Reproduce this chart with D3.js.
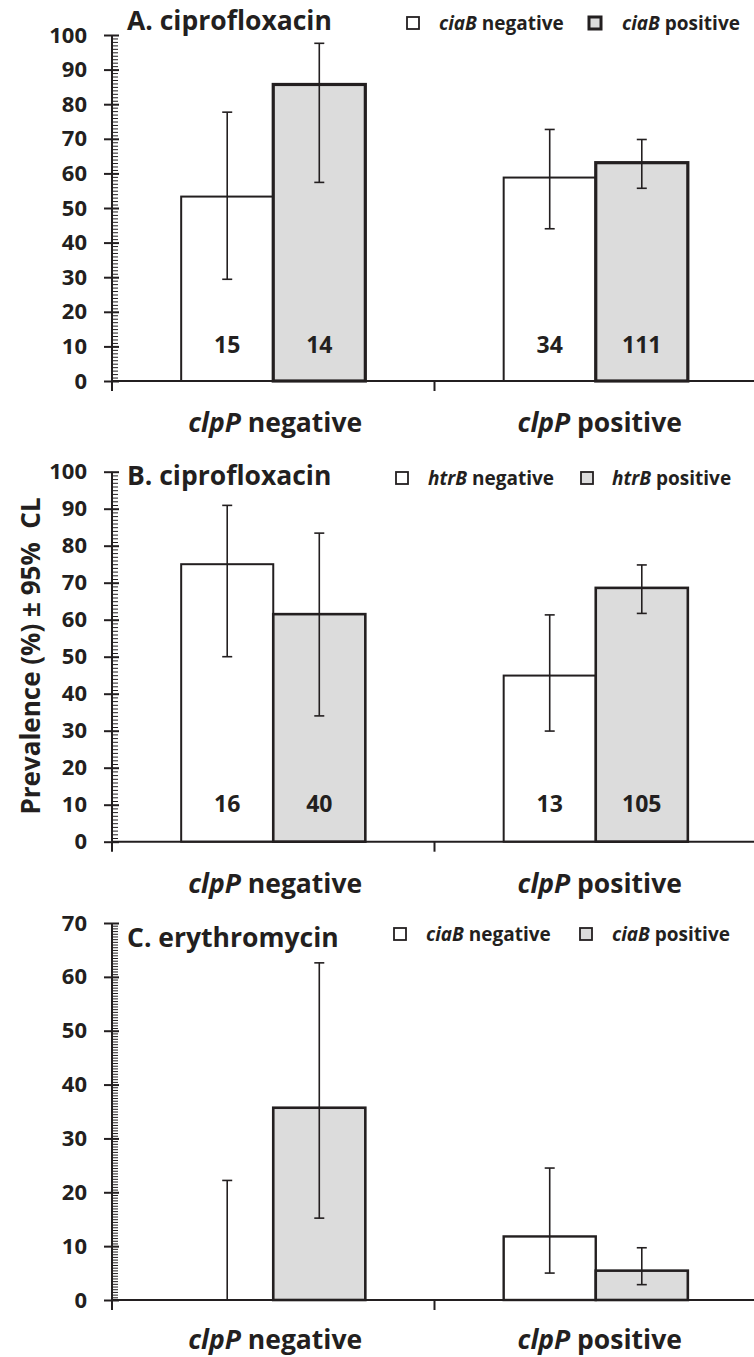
<!DOCTYPE html>
<html>
<head>
<meta charset="utf-8">
<script src="https://cdn.jsdelivr.net/npm/d3@7"></script>
<style>
  html, body { margin: 0; padding: 0; background: #fff; }
  svg { display: block; }
  text { font-family: "Open Sans", "Noto Sans", sans-serif; font-weight: bold; fill: #231f20; }
</style>
</head>
<body>
<svg id="chart" width="754" height="1357"></svg>
<script>
// ---------- data ----------
const categories = ["clpP negative", "clpP positive"];
const categoryGene = ["clpP", "clpP"];
const categoryState = ["negative", "positive"];
const seriesKeys = ["negative", "positive"];
const panelTitles = ["A. ciprofloxacin", "B. ciprofloxacin", "C. erythromycin"];
const legendGenes = ["ciaB", "htrB", "ciaB"];
const yMaxes = [100, 100, 70];
const majorTickStep = [10, 10, 10];
const minorTickStep = [1, 1, 0.5];

// values per category: [negative series, positive series]
const valuesA = [[53.3, 85.7], [58.8, 63.1]];
const lowerA  = [[29.4, 57.4], [44.0, 55.7]];
const upperA  = [[77.7, 97.6], [72.7, 69.8]];
const countsA = [[15, 14], [34, 111]];

const valuesB = [[75.0, 61.5], [44.9, 68.6]];
const lowerB  = [[50.0, 34.0], [29.9, 61.7]];
const upperB  = [[90.9, 83.4], [61.3, 74.8]];
const countsB = [[16, 40], [13, 105]];

const valuesC = [[0, 35.7], [11.8, 5.45]];
const lowerC  = [[0, 15.2], [5.0, 2.85]];
const upperC  = [[22.2, 62.6], [24.5, 9.7]];
const countsC = null;

const yAxisTitle = "Prevalence (%) ± 95%  CL";

// ---------- layout ----------
const ink = "#231f20";
const grayFill = "#dcdcdc";
const layouts = [
  { top: 35,    bottom: 381,   titleY: 30,    legY: 17,    legX: [407, 589], txtX: [439, 622], catY: 432,  grayStroke: 3.2, whiteStroke: 2 },
  { top: 471.7, bottom: 841.7, titleY: 485,   legY: 472,   legX: [396, 581], txtX: [428, 612], catY: 893,  grayStroke: 2.6, whiteStroke: 2 },
  { top: 923,   bottom: 1300,  titleY: 946.5, legY: 928,   legX: [394, 580], txtX: [426, 612], catY: 1349, grayStroke: 2.6, whiteStroke: 2.4 }
];
const panelData = [
  { v: valuesA, lo: lowerA, hi: upperA, n: countsA },
  { v: valuesB, lo: lowerB, hi: upperB, n: countsB },
  { v: valuesC, lo: lowerC, hi: upperC, n: countsC }
];

const svg = d3.select("#chart");
const xLeft = 112, xRight = 757;

const x0 = d3.scaleBand().domain(categories).range([xLeft, xRight]).padding(0);
const bw = x0.bandwidth();
const groupW = bw * 0.571;
const x1 = d3.scaleBand().domain(seriesKeys).range([(bw - groupW) / 2, (bw + groupW) / 2]).padding(0);

panelData.forEach((pd, pi) => {
  const L = layouts[pi];
  const g = svg.append("g");
  const y = d3.scaleLinear().domain([0, yMaxes[pi]]).range([L.bottom, L.top]);

  // bars
  categories.forEach((cat, ci) => {
    seriesKeys.forEach((s, si) => {
      const val = pd.v[ci][si];
      const isPos = si === 1;
      const sw = isPos ? L.grayStroke : L.whiteStroke;
      g.append("rect")
        .attr("x", x0(cat) + x1(s))
        .attr("y", y(val))
        .attr("width", x1.bandwidth())
        .attr("height", y(0) - y(val))
        .attr("fill", isPos ? grayFill : "#fff")
        .attr("stroke", ink)
        .attr("stroke-width", sw);
    });
  });

  // error bars
  categories.forEach((cat, ci) => {
    seriesKeys.forEach((s, si) => {
      const cx = x0(cat) + x1(s) + x1.bandwidth() / 2;
      const lo = pd.lo[ci][si], hi = pd.hi[ci][si];
      g.append("line").attr("x1", cx).attr("x2", cx).attr("y1", y(lo)).attr("y2", y(hi))
        .attr("stroke", ink).attr("stroke-width", 1.6);
      g.append("line").attr("x1", cx - 5).attr("x2", cx + 5).attr("y1", y(hi)).attr("y2", y(hi))
        .attr("stroke", ink).attr("stroke-width", 1.6);
      if (lo > 0) {
        g.append("line").attr("x1", cx - 5).attr("x2", cx + 5).attr("y1", y(lo)).attr("y2", y(lo))
          .attr("stroke", ink).attr("stroke-width", 1.6);
      }
    });
  });

  // counts
  if (pd.n) {
    categories.forEach((cat, ci) => {
      seriesKeys.forEach((s, si) => {
        const cx = x0(cat) + x1(s) + x1.bandwidth() / 2;
        g.append("text").attr("x", cx).attr("y", y(10)).attr("dy", "0.3em")
          .attr("text-anchor", "middle").style("font-size", "23px")
          .text(pd.n[ci][si]);
      });
    });
  }

  // y axis ticks
  const majors = d3.range(0, yMaxes[pi] + 0.001, majorTickStep[pi]);
  const minors = d3.range(0, yMaxes[pi] + 0.001, minorTickStep[pi]).filter(v => Math.abs(v / majorTickStep[pi] - Math.round(v / majorTickStep[pi])) > 1e-6);

  const yAxisMinor = d3.axisRight(y).tickValues(minors).tickSize(6).tickFormat("");
  const gMinor = g.append("g").attr("transform", `translate(${xLeft},0)`).call(yAxisMinor);
  gMinor.select(".domain").remove();
  gMinor.selectAll("line").attr("stroke", ink).attr("stroke-width", 1);

  const yAxisMajor = d3.axisLeft(y).tickValues(majors).tickSize(8).tickPadding(17).tickFormat(d3.format("d"));
  const gMajor = g.append("g").attr("transform", `translate(${xLeft},0)`).call(yAxisMajor);
  gMajor.select(".domain").attr("stroke", ink).attr("stroke-width", 2).attr("d", `M0,${L.top}V${L.bottom}`);
  gMajor.selectAll(".tick line").attr("stroke", ink).attr("stroke-width", 2).attr("x2", -8).attr("x1", 7);
  gMajor.selectAll(".tick text").style("font-size", "22px").style("font-family", "'Open Sans', sans-serif")
    .attr("fill", ink).attr("font-weight", "bold");

  // x axis
  g.append("line").attr("x1", xLeft).attr("x2", xRight).attr("y1", y(0)).attr("y2", y(0))
    .attr("stroke", ink).attr("stroke-width", 2);
  const boundaries = [xLeft, x0(categories[1])];
  boundaries.forEach(bx => {
    g.append("line").attr("x1", bx).attr("x2", bx).attr("y1", y(0)).attr("y2", y(0) + 10)
      .attr("stroke", ink).attr("stroke-width", 2);
  });

  // category labels
  categories.forEach((cat, ci) => {
    const t = g.append("text").attr("x", x0(cat) + bw / 2 + (ci === 1 ? 4 : 2)).attr("y", L.catY)
      .attr("text-anchor", "middle").style("font-size", "26.5px");
    t.append("tspan").attr("font-style", "italic").text(categoryGene[ci]);
    t.append("tspan").text(" " + categoryState[ci]);
  });

  // title
  g.append("text").attr("x", 127).attr("y", L.titleY).style("font-size", "26.5px").text(panelTitles[pi]);

  // legend
  seriesKeys.forEach((s, si) => {
    const isPos = si === 1;
    g.append("rect").attr("x", L.legX[si]).attr("y", L.legY).attr("width", 12).attr("height", 12)
      .attr("fill", isPos ? grayFill : "#fff").attr("stroke", ink)
      .attr("stroke-width", (pi === 0 && isPos) ? 3 : 1.8);
    const t = g.append("text").attr("x", L.txtX[si]).attr("y", L.legY + 12.5).style("font-size", "19px");
    t.append("tspan").attr("font-style", "italic").text(legendGenes[pi]);
    t.append("tspan").text(" " + s);
  });
});

// y axis title
svg.append("text")
  .attr("transform", "translate(40,656) rotate(-90)")
  .attr("text-anchor", "middle")
  .style("font-size", "26px")
  .style("white-space", "pre")
  .text(yAxisTitle);
</script>
</body>
</html>
